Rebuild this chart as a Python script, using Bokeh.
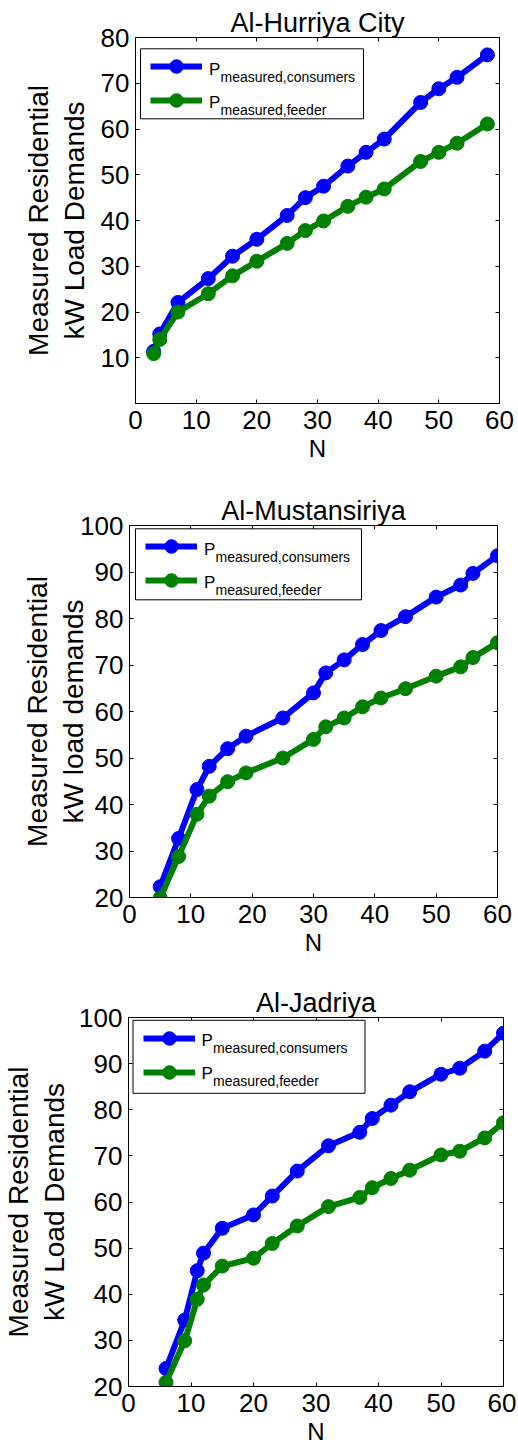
from bokeh.plotting import figure
from bokeh.models import (Range1d, LinearAxis, FixedTicker, Label, BoxAnnotation,
                          Legend, LegendItem)
from bokeh.embed import file_html
from bokeh.resources import INLINE

FONT = "Liberation Sans"
BLUE = "#0000FF"
GREEN = "#008000"

# ---------------- data ----------------
hurriya_n = [3, 4, 7, 12, 16, 20, 25, 28, 31, 35, 38, 41, 47, 50, 53, 58]
hurriya_consumers = [11.4, 15.2, 22.1, 27.3, 32.2, 35.9, 41.1, 45.0, 47.5, 51.9, 54.9, 57.8, 65.8, 68.8, 71.3, 76.2]
hurriya_feeder = [10.9, 14.0, 20.0, 24.0, 27.9, 31.1, 35.0, 37.8, 39.9, 43.1, 45.1, 46.9, 52.9, 54.9, 56.9, 61.1]

mustansiriya_n = [5, 8, 11, 13, 16, 19, 25, 30, 32, 35, 38, 41, 45, 50, 54, 56, 60]
mustansiriya_consumers = [22.3, 32.7, 43.2, 48.2, 52.0, 54.7, 58.6, 64.0, 68.3, 71.1, 74.4, 77.4, 80.4, 84.6, 87.2, 89.7, 93.5]
mustansiriya_feeder = [19.9, 28.8, 37.9, 41.8, 44.9, 46.8, 50.0, 54.0, 56.7, 58.6, 61.0, 62.9, 64.9, 67.6, 69.6, 71.6, 74.8]

jadriya_n = [6, 9, 11, 12, 15, 20, 23, 27, 32, 37, 39, 42, 45, 50, 53, 57, 60]
jadriya_consumers = [23.9, 34.4, 45.1, 48.9, 54.3, 57.2, 61.3, 66.7, 72.2, 75.1, 78.1, 81.0, 83.9, 87.7, 89.0, 92.7, 96.6]
jadriya_feeder = [20.9, 29.9, 38.9, 42.0, 46.1, 47.8, 51.0, 54.8, 59.0, 61.0, 63.1, 65.1, 66.9, 70.2, 71.0, 73.9, 77.2]

titles = ["Al-Hurriya City", "Al-Mustansiriya", "Al-Jadriya"]
ylabels = ["Measured Residential\nkW Load Demands",
           "Measured Residential\nkW load demands",
           "Measured Residential\nkW Load Demands"]
xlabel = "N"
x_ticks = [0, 10, 20, 30, 40, 50, 60]
y_ticks_hurriya = [10, 20, 30, 40, 50, 60, 70, 80]
y_ticks_other = [20, 30, 40, 50, 60, 70, 80, 90, 100]
legend_main = "P"
legend_subs = ["measured,consumers", "measured,feeder"]

# ---------------- layout geometry (pixels) ----------------
W = 516
geoms = [
    dict(H=478, bl=135, br=17, bt=37, bb=75, ylstand=8, nstand=3,
         lg_left=5, lg_top=11.3, lg_w=223, lg_h=70),
    dict(H=487, bl=129, br=19, bt=47, bb=68, ylstand=-12, nstand=3,
         lg_left=6, lg_top=3.3, lg_w=226, lg_h=71),
    dict(H=487, bl=126, br=13, bt=52, bb=66, ylstand=6, nstand=3,
         lg_left=4.5, lg_top=2.8, lg_w=232, lg_h=73),
]


def style_axis(ax, ticks, show, standoff):
    ax.ticker = FixedTicker(ticks=ticks)
    ax.major_tick_in = 4
    ax.major_tick_out = 0
    ax.minor_tick_line_color = None
    ax.axis_line_color = "black"
    ax.major_tick_line_color = "black"
    ax.major_label_text_font = FONT
    ax.major_label_text_color = "black"
    ax.major_label_standoff = standoff
    if show:
        ax.major_label_text_font_size = "26px"
    else:
        ax.major_label_text_font_size = "0px"
        ax.major_label_overrides = {t: "" for t in ticks}


def make_panel(n, cons, feed, title, ylab, y_rng, y_ticks, g):
    h = g["H"] - g["bt"] - g["bb"]
    p = figure(width=W, height=g["H"], x_range=Range1d(0, 60), y_range=Range1d(*y_rng),
               output_backend="svg", toolbar_location=None,
               min_border_left=g["bl"], min_border_right=g["br"],
               min_border_top=g["bt"], min_border_bottom=g["bb"])
    p.xgrid.visible = False
    p.ygrid.visible = False
    p.outline_line_color = "black"
    p.outline_line_width = 1
    p.background_fill_color = "white"
    p.border_fill_color = "white"

    p.title.text = title
    p.title.text_font = FONT
    p.title.text_font_size = "27px"
    p.title.text_font_style = "normal"
    p.title.text_color = "black"
    p.title.align = "center"
    p.title.standoff = 0

    style_axis(p.xaxis[0], x_ticks, True, 7)
    style_axis(p.yaxis[0], y_ticks, True, 6)
    p.xaxis[0].axis_label = xlabel
    p.xaxis[0].axis_label_text_font = FONT
    p.xaxis[0].axis_label_text_font_size = "24px"
    p.xaxis[0].axis_label_text_font_style = "normal"
    p.xaxis[0].axis_label_text_color = "black"
    p.xaxis[0].axis_label_standoff = g["nstand"]
    p.yaxis[0].axis_label = ylab
    p.yaxis[0].axis_label_text_font = FONT
    p.yaxis[0].axis_label_text_font_size = "28px"
    p.yaxis[0].axis_label_text_font_style = "normal"
    p.yaxis[0].axis_label_text_color = "black"
    p.yaxis[0].axis_label_text_line_height = 1.15
    p.yaxis[0].axis_label_standoff = g["ylstand"]

    top_ax = LinearAxis()
    style_axis(top_ax, x_ticks, False, 0)
    p.add_layout(top_ax, "above")
    right_ax = LinearAxis()
    style_axis(right_ax, y_ticks, False, 0)
    p.add_layout(right_ax, "right")

    lb = p.line(n, cons, line_color=BLUE, line_width=6)
    sb = p.scatter(n, cons, marker="circle", size=14, fill_color=BLUE, line_color=BLUE)
    lg = p.line(n, feed, line_color=GREEN, line_width=6)
    sg = p.scatter(n, feed, marker="circle", size=14, fill_color=GREEN, line_color=GREEN)

    # legend box
    box_top = h - g["lg_top"]
    box_left = g["lg_left"]
    p.add_layout(BoxAnnotation(left=box_left, right=box_left + g["lg_w"],
                               top=box_top, bottom=box_top - g["lg_h"],
                               left_units="screen", right_units="screen",
                               top_units="screen", bottom_units="screen",
                               fill_color="white", fill_alpha=1.0,
                               line_color="black", line_width=1, line_alpha=1.0))
    legend = Legend(items=[LegendItem(label=" ", renderers=[lb, sb]),
                           LegendItem(label=" ", renderers=[lg, sg])],
                    location=(box_left + 10, box_top - 1 - 68),
                    glyph_width=52, glyph_height=34, padding=0, spacing=0, margin=0,
                    label_standoff=0, label_width=0, label_height=0,
                    label_text_font_size="1px",
                    border_line_color=None, background_fill_alpha=0)
    p.add_layout(legend)
    for i, sub in enumerate(legend_subs):
        p.add_layout(Label(x=box_left + 68.5, y=box_top - 20.5 - 33 * i,
                           x_units="screen", y_units="screen", text=legend_main,
                           text_font=FONT, text_font_size="17px", text_color="black",
                           text_align="left", text_baseline="alphabetic"))
        p.add_layout(Label(x=box_left + 80, y=box_top - 28 - 33 * i,
                           x_units="screen", y_units="screen", text=sub,
                           text_font=FONT, text_font_size="14px", text_color="black",
                           text_align="left", text_baseline="alphabetic"))
    return p


p1 = make_panel(hurriya_n, hurriya_consumers, hurriya_feeder, titles[0], ylabels[0],
                (0, 80), y_ticks_hurriya, geoms[0])
p2 = make_panel(mustansiriya_n, mustansiriya_consumers, mustansiriya_feeder, titles[1],
                ylabels[1], (20, 100), y_ticks_other, geoms[1])
p3 = make_panel(jadriya_n, jadriya_consumers, jadriya_feeder, titles[2], ylabels[2],
                (20, 100), y_ticks_other, geoms[2])

open("out.html", "w").write(file_html([p1, p2, p3], INLINE))
